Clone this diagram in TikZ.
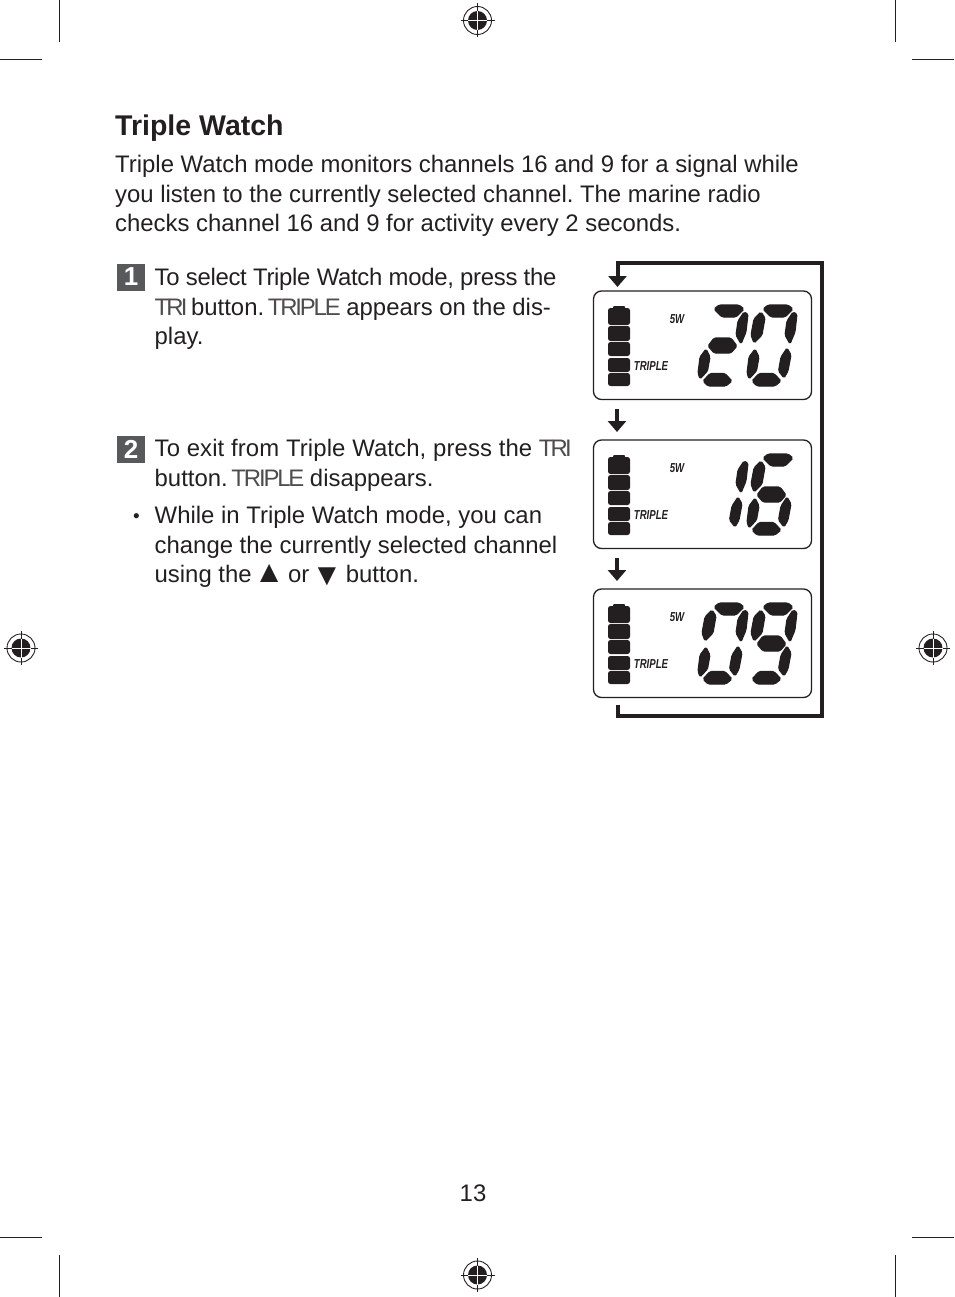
\documentclass[tikz,border=0pt]{standalone}
\usepackage{fontspec}
\setmainfont{Liberation Sans}
\newfontfamily\lcdfont[FakeStretch=0.74]{Liberation Sans}
\usetikzlibrary{positioning,arrows.meta}
\definecolor{inkblack}{HTML}{231F20}
\definecolor{badgegray}{HTML}{58595B}
% lcd segments, measured from the top left of one digit
\newcommand{\segtop}{(16,4)--(21,0)--(41,0)--(46,4)--(38,12)--(24,12)--cycle}
\newcommand{\segul}{(14,7)--(18,13)--(15,30)--(7,38)--(4,30)--(7,14)--cycle}
\newcommand{\segur}{(46,7)--(50,9)--(48,27)--(43,39)--(38,30)--(40,16)--cycle}
\newcommand{\segmid}{(10,41)--(16,33)--(33,33)--(39,41)--(33,48)--(16,48)--cycle}
\newcommand{\segll}{(8,44)--(12,52)--(9.5,66)--(2,74)--(0,68)--(2,52)--cycle}
\newcommand{\seglr}{(40,43)--(44,50)--(41,66)--(37,73)--(31.5,66)--(34,52)--cycle}
\newcommand{\segbot}{(5,76)--(12,68.5)--(27,68.5)--(34,76)--(28,81)--(10,81)--cycle}
\newcommand{\digzero}{\segtop \segul \segur \segll \seglr \segbot}
\newcommand{\digone}{\segur \seglr}
\newcommand{\digtwo}{\segtop \segur \segmid \segll \segbot}
\newcommand{\digsix}{\segtop \segul \segmid \segll \seglr \segbot}
\newcommand{\dignine}{\segtop \segul \segur \segmid \seglr \segbot}
\newcommand{\dottext}[2]{{\addfontfeature{LetterSpace=#1}\color{inkblack!80}#2}}
\newcommand{\bigmark}[1]{\hspace{-4.5pt}{\fontsize{31}{29.5}\selectfont #1}\hspace{-3pt}}
\tikzset{
  textline/.style={anchor=north west, inner sep=0pt, align=left, text=inkblack,
    font=\frenchspacing\fontsize{23.9}{29.5}\selectfont},
  titletext/.style={anchor=north west, inner sep=0pt, text=inkblack,
    font=\fontsize{28.5}{30}\selectfont\bfseries},
  stepbadge/.style={fill=badgegray, text=white, minimum width=28pt, minimum height=27pt,
    inner sep=0pt, font=\fontsize{26}{26}\selectfont\bfseries},
  lcdbox/.style={draw=inkblack, line width=1.3pt, rounded corners=8pt, minimum width=218pt,
    minimum height=108.5pt, inner sep=0pt, outer sep=0pt},
  lcdseg/.style={fill=inkblack, draw=inkblack, line width=1.1pt, rounded corners=1.5pt},
  lcdlabel/.style={inner sep=0pt, text=inkblack, font=\lcdfont\fontsize{13}{13}\selectfont\bfseries\itshape},
  flowarrow/.style={draw=inkblack, line width=3.6pt, -{Triangle[width=18pt,length=11pt]}},
  loopline/.style={flowarrow, line width=4pt, miter limit=10},
  cropmark/.style={draw=inkblack, line width=0.9pt}
}
\newcommand{\regmark}[2]{%
  \begin{scope}[shift={(#1,#2)}]
    \draw[inkblack, line width=0.9pt] (0,0) circle (14);
    \fill[inkblack] (0,0) circle (9.5);
    \draw[inkblack, line width=1pt] (-17,0) -- (17,0) (0,-17) -- (0,17);
    \draw[white, line width=1pt] (-9.5,0) -- (9.5,0) (0,-9.5) -- (0,9.5);
  \end{scope}}
\begin{document}
\begin{tikzpicture}[x=1pt, y=-1pt, node distance=40.5pt]
  \useasboundingbox (0,0) rectangle (954,1297);

  % crop marks
  \draw[cropmark] (59.5,0) -- (59.5,42) (895.5,0) -- (895.5,42);
  \draw[cropmark] (0,59.5) -- (42,59.5) (912,59.5) -- (954,59.5);
  \draw[cropmark] (0,1237) -- (42,1237) (912,1237) -- (954,1237);
  \draw[cropmark] (59.5,1255) -- (59.5,1297) (895.5,1255) -- (895.5,1297);
  \regmark{477.5}{20.5}
  \regmark{477.5}{1275}
  \regmark{21}{648}
  \regmark{933}{648}

  % text
  \node[titletext] (title) at (115,115) {Triple Watch};
  \node[textline] (intro) at (115,155) {Triple Watch mode monitors channels 16 and 9 for a signal while\\
    you listen to the currently selected channel. The marine radio\\
    checks channel 16 and 9 for activity every 2 seconds.};
  \node[stepbadge] (badgeone) at (131,277) {\raisebox{-4pt}{1}};
  \node[textline] (stepone) at (154.5,268) {{\addfontfeature{LetterSpace=-1.3}To select Triple Watch mode, press the}\\
    \dottext{-12}{TRI}\hspace{-3pt} button.\hspace{-3pt} \dottext{-9}{TRIPLE}\hspace{-1pt} appears on the dis-\\
    play.};
  \node[stepbadge] (badgetwo) at (131,449) {\raisebox{-4pt}{2}};
  \node[textline] (steptwo) at (154.5,439) {{\addfontfeature{LetterSpace=0.5}To exit from Triple Watch, press the} \dottext{-12}{TRI}\\
    button.\hspace{-3pt} \dottext{-9}{TRIPLE}\hspace{-1pt} disappears.};
  \node[textline] (bullet) at (133,506) {\vphantom{T}{\fontsize{19}{19}\selectfont •}};
  \node[textline] (bullettext) at (154.5,506) {While in Triple Watch mode, you can\\
    change the currently selected channel\\
    using the \bigmark{▲} or \bigmark{\raisebox{-3pt}{▼}} button.};
  \node[textline, anchor=center] (pagenum) at (473,1193) {13};

  % lcd panels
  \node[lcdbox] (lcdone) at (702.5,345.25) {};
  \node[lcdbox, below=of lcdone] (lcdtwo) {};
  \node[lcdbox, below=of lcdtwo] (lcdthree) {};
  \foreach \panel/\leftdig/\rightdig in {lcdone/\digtwo/\digzero, lcdtwo/\digone/\digsix, lcdthree/\digzero/\dignine} {
    \begin{scope}[shift={(\panel.north west)}]
      \fill[inkblack, rounded corners=1pt] (19.5,18) -- (19.5,15) -- (31.5,15) -- (31.5,18) -- cycle;
      \foreach \top/\bot in {17/34, 35/50, 51/65, 67/81, 82/95}
        \fill[inkblack, rounded corners=2.5pt] (14.5,\top) rectangle (36.5,\bot);
      \node[lcdlabel] (\panel watt) at (83.5,28) {5W};
      \node[lcdlabel] (\panel mode) at (57.5,75) {TRIPLE};
      \fill[lcdseg, shift={(104.5,14)}] \leftdig;
      \fill[lcdseg, shift={(153.5,14)}] \rightdig;
    \end{scope}
  }

  % arrows
  \coordinate (loopbr) at (822,715.5);
  \coordinate (looptr) at (822,263);
  \draw[flowarrow] ([xshift=23.5pt,yshift=-9.5pt]lcdone.south west) -- ([xshift=23.5pt,yshift=8pt]lcdtwo.north west);
  \draw[flowarrow] ([xshift=23.5pt,yshift=-9.5pt]lcdtwo.south west) -- ([xshift=23.5pt,yshift=8pt]lcdthree.north west);
  \draw[loopline] ([xshift=24.5pt,yshift=-7pt]lcdthree.south west) |- (loopbr) -- (looptr) -| ([xshift=24pt,yshift=4pt]lcdone.north west);
\end{tikzpicture}
\end{document}
